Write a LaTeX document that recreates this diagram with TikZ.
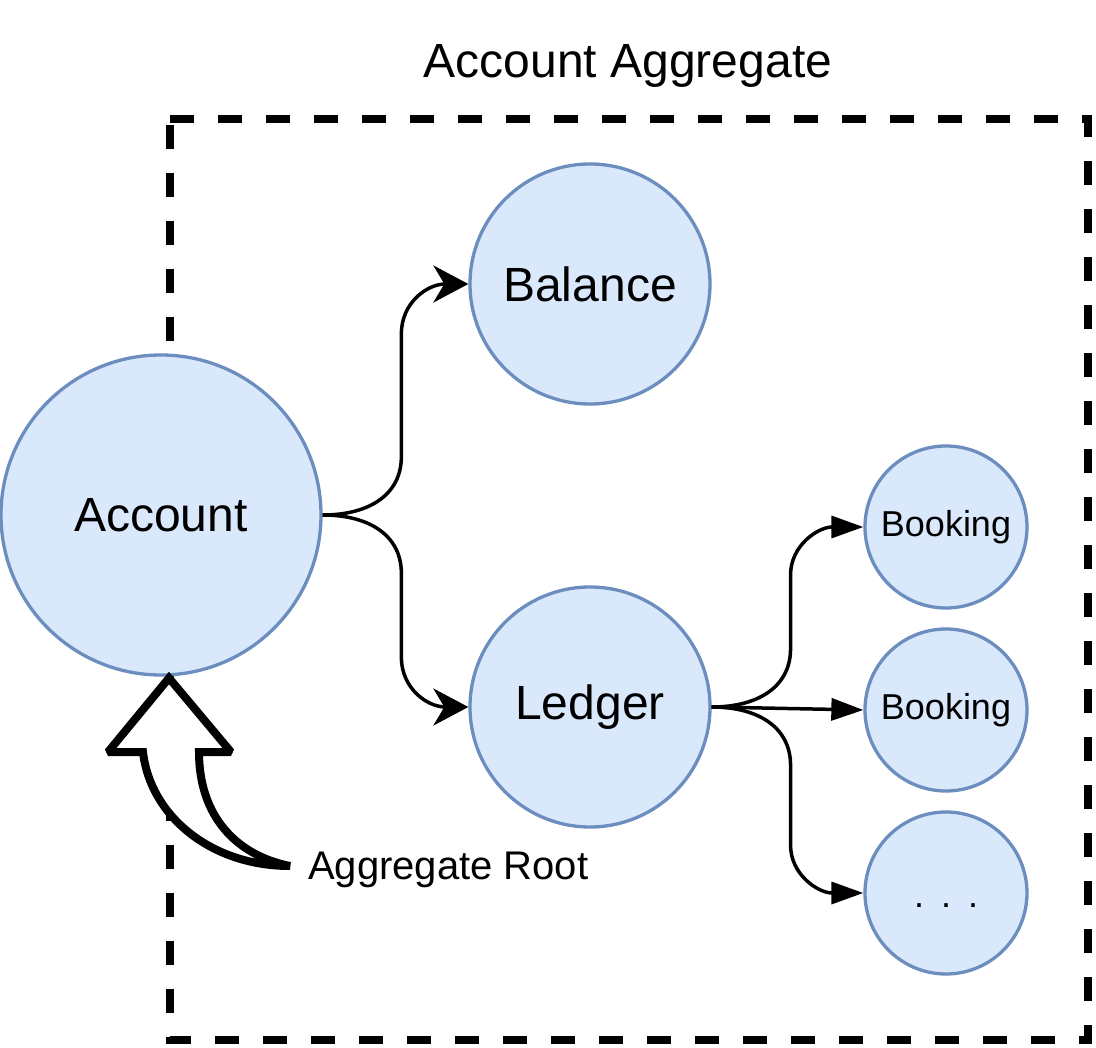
\documentclass[tikz,border=0pt]{standalone}
\usepackage{fontspec}
\setmainfont{Liberation Sans}
\usetikzlibrary{arrows.meta,calc}
\definecolor{cfill}{HTML}{DAE8FC}
\definecolor{cline}{HTML}{6C8EBF}
\begin{document}
\begin{tikzpicture}[x=1pt,y=-1pt,
  entity/.style={circle,draw=cline,fill=cfill,line width=3.3pt,inner sep=0pt,minimum size=#1},
  bigfont/.style={font=\fontsize{48}{56}\selectfont},
  smallfont/.style={font=\fontsize{36}{42}\selectfont},
  bigarr/.style={line width=3.5pt,-{Stealth[length=35pt,width=37pt,inset=11pt]}},
  smallarr/.style={line width=3.5pt,-{Triangle[length=32pt,width=22pt]}},
  boundary/.style={line width=7.5pt,dash pattern=on 24pt off 24pt},
  hollowarr/.style={line width=8pt,fill=white,line join=miter,miter limit=2}
]
\useasboundingbox (0,0) rectangle (1096,1048);

% aggregate boundary
\draw[boundary] (170,119) -- (1088,119) -- (1088,1040) -- (170,1040) -- cycle;
\node[bigfont,anchor=base] (title) at (628,78) {Account Aggregate};

% entities
\node[entity=320pt,bigfont] (acc) at (161,515) {Account};
\node[entity=240pt,bigfont] (bal) at (590,284) {Balance};
\node[entity=240pt,bigfont] (led) at (590,707) {Ledger};
\node[entity=162pt,smallfont] (b1) at (946,527) {Booking};
\node[entity=162pt,smallfont] (b2) at (946,710) {Booking};
\node[entity=162pt] (b3) at (946,893) {};
\node[smallfont,anchor=base,inner sep=0pt] (dots) at (946,907) {.\hspace{17pt}.\hspace{17pt}.};

% Account -> Balance / Ledger
\coordinate (m1) at ($(acc.east)!0.54!(bal.west)$);
\coordinate (c1) at (acc.east -| m1);
\coordinate (c2) at (bal.west -| m1);
\coordinate (c3) at (led.west -| m1);
\coordinate (v1) at ($(c1)+(0,-58)$);
\coordinate (v2) at ($(c2)+(0,50)$);
\coordinate (v3) at ($(c1)+(0,58)$);
\coordinate (v4) at ($(c3)+(0,-50)$);
\draw[bigarr] (acc.east) .. controls ($(acc.east)!0.62!(c1)$) and ($(v1)!0.62!(c1)$) .. (v1)
  -- (v2) .. controls ($(v2)!0.62!(c2)$) and ($(bal.west)!0.62!(c2)$) .. (bal.west);
\draw[bigarr] (acc.east) .. controls ($(acc.east)!0.62!(c1)$) and ($(v3)!0.62!(c1)$) .. (v3)
  -- (v4) .. controls ($(v4)!0.62!(c3)$) and ($(led.west)!0.62!(c3)$) .. (led.west);

% Ledger -> Bookings
\coordinate (m2) at ($(led.east)!0.52!(b1.west)$);
\coordinate (d1) at (led.east -| m2);
\coordinate (d2) at (b1.west -| m2);
\coordinate (d3) at (b3.west -| m2);
\coordinate (w1) at ($(d1)+(0,-58)$);
\coordinate (w2) at ($(d2)+(0,48)$);
\coordinate (w3) at ($(d1)+(0,58)$);
\coordinate (w4) at ($(d3)+(0,-48)$);
\draw[smallarr] (led.east) .. controls ($(led.east)!0.62!(d1)$) and ($(w1)!0.62!(d1)$) .. (w1)
  -- (w2) .. controls ($(w2)!0.62!(d2)$) and ($(b1.west)!0.62!(d2)$) .. (b1.west);
\draw[smallarr] (led.east) -- (b2.west);
\draw[smallarr] (led.east) .. controls ($(led.east)!0.62!(d1)$) and ($(w3)!0.62!(d1)$) .. (w3)
  -- (w4) .. controls ($(w4)!0.62!(d3)$) and ($(b3.west)!0.62!(d3)$) .. (b3.west);

% aggregate root marker
\coordinate (tip) at (169,678);
\coordinate (tail) at (290,866);
\draw[hollowarr] (tip) -- (231,752) -- (199,752)
  .. controls (199,815) and (235,855) .. (tail)
  .. controls (210,866) and (150,815) .. (143,752) -- (108,752) -- cycle;
\node[font=\fontsize{40}{48}\selectfont,anchor=base west,inner sep=0pt] (root) at (308,879) {Aggregate Root};
\end{tikzpicture}
\end{document}
